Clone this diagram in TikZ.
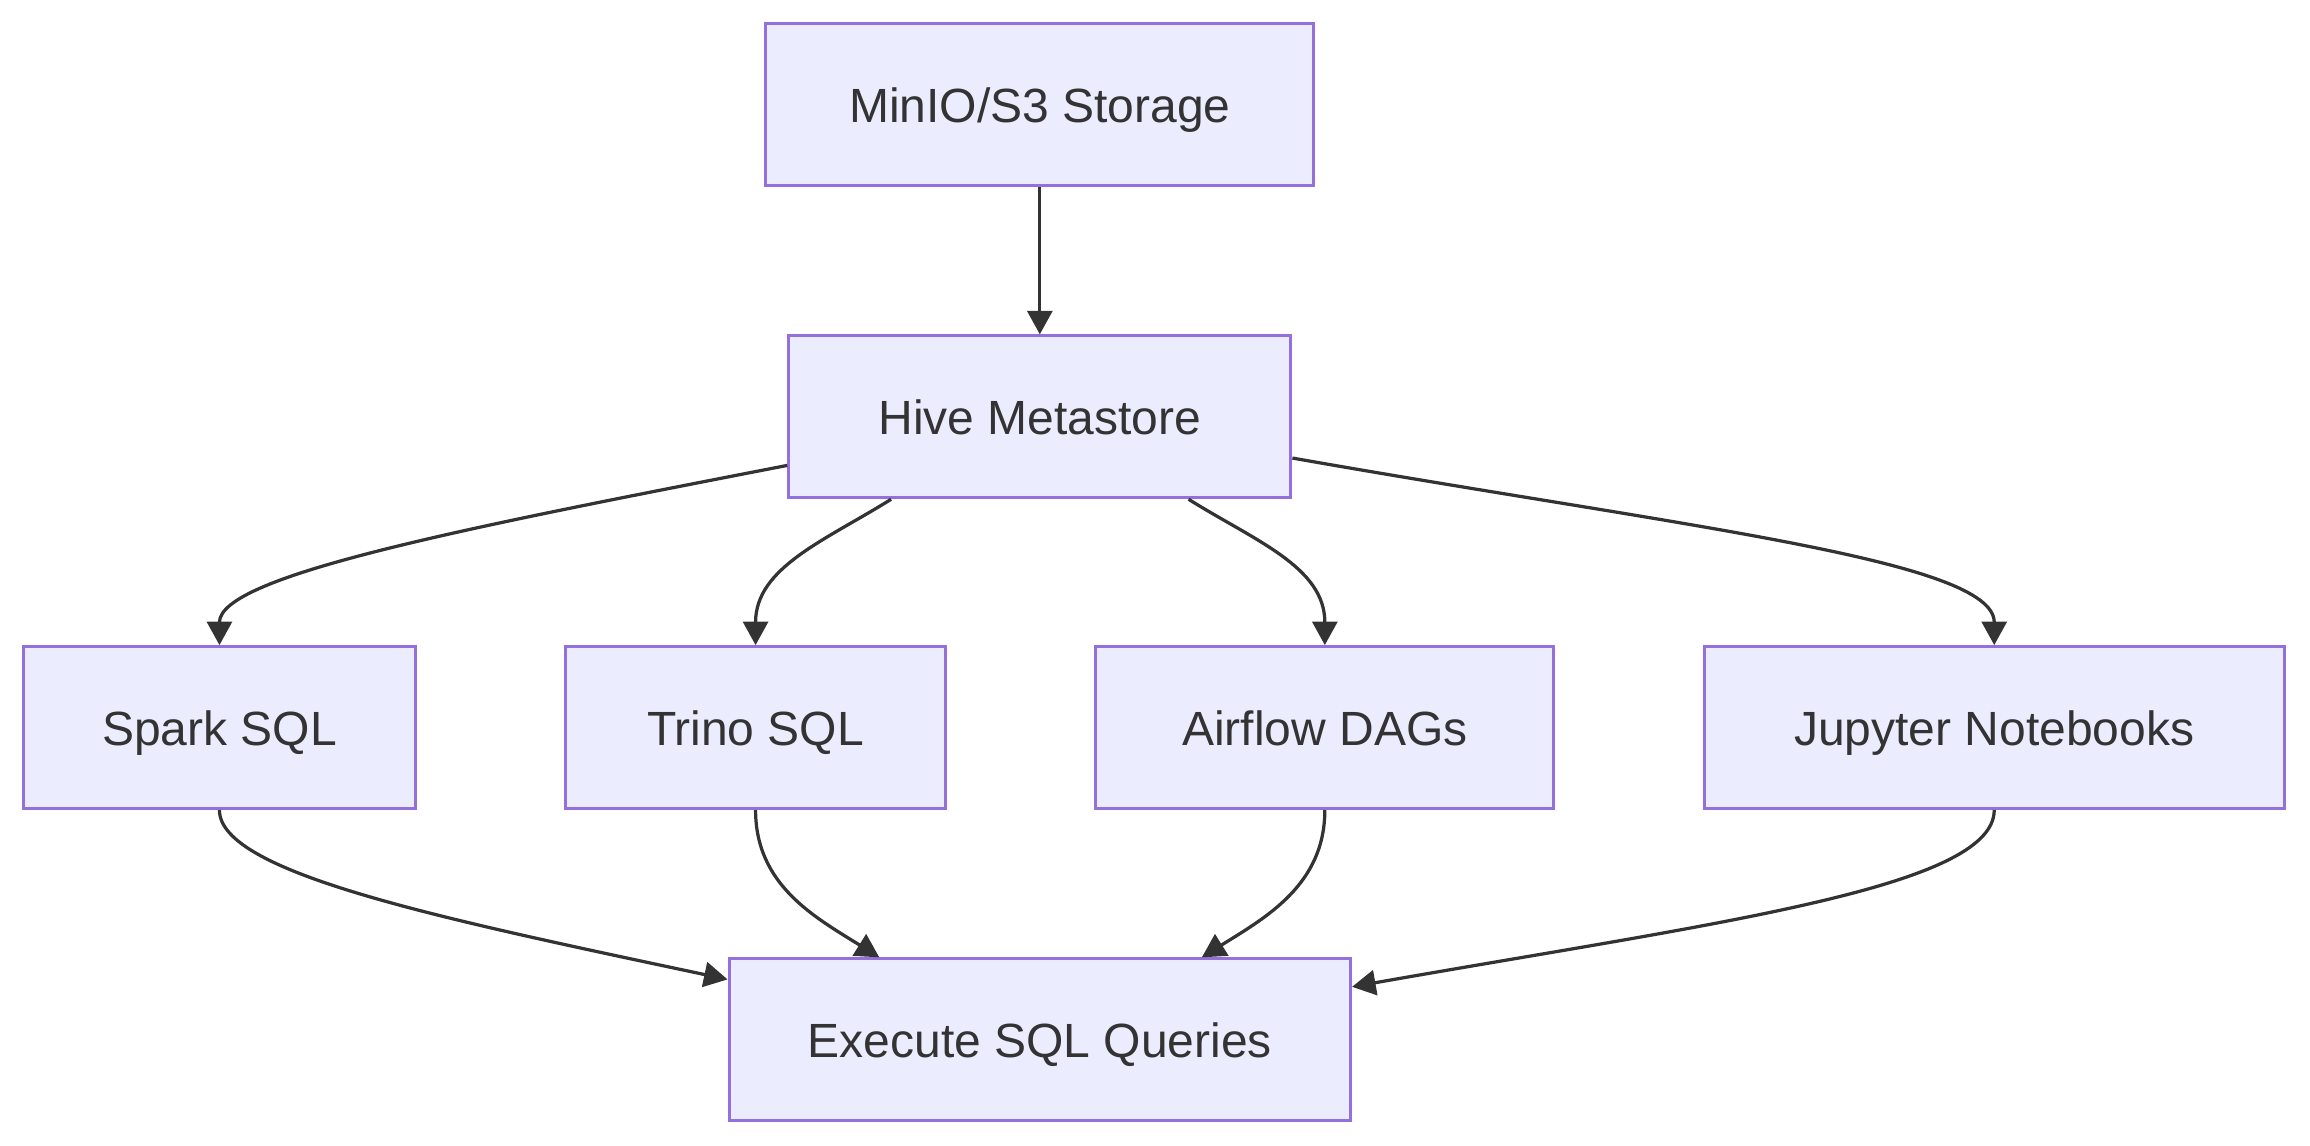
\documentclass[tikz,border=0pt]{standalone}
\usepackage{fontspec}
\setmainfont{Liberation Sans}
\usetikzlibrary{arrows.meta, positioning}
\definecolor{boxfill}{HTML}{ECECFF}
\definecolor{boxline}{HTML}{9370DB}
\definecolor{ink}{HTML}{333333}

\begin{document}
\begin{tikzpicture}[x=1pt, y=-1pt, node distance=212pt, on grid,
    box/.style={draw=boxline, fill=boxfill, line width=2pt, minimum height=110pt,
      inner sep=0pt, text=ink, font=\fontsize{32.6pt}{39pt}\selectfont,
      text height=24pt, text depth=0pt},
    flow/.style={color=ink, line width=2.2pt, -{Triangle[length=16pt, width=17pt]}}]
  \useasboundingbox (0,0) rectangle (1568.4,778);
  \node[box, minimum width=372pt] (minio) at (706,71) {MinIO/S3 Storage};
  \node[box, minimum width=341pt] (hive) [below=of minio] {Hive Metastore};
  \node[box, minimum width=258pt] (trino) [below left=211pt and 193pt of hive] {Trino SQL};
  \node[box, minimum width=266pt] (spark) [left=364pt of trino] {Spark SQL};
  \node[box, minimum width=311pt] (airflow) [below right=211pt and 193.5pt of hive] {Airflow DAGs};
  \node[box, minimum width=394pt] (jupyter) [right=454.5pt of airflow] {Jupyter Notebooks};
  \node[box, minimum width=422pt] (exec) [below=423pt of hive] {Execute SQL Queries};
  \path[flow]
    (minio) edge (hive)
    ([yshift=-33pt]hive.west) edge [out=191, in=90, out looseness=1.4, in looseness=0.3] (spark.north)
    ([xshift=-101pt]hive.south) edge [out=212, in=90] (trino.north)
    ([xshift=101pt]hive.south) edge [out=-32, in=90] (airflow.north)
    ([yshift=-28pt]hive.east) edge [out=-10, in=90, out looseness=1.4, in looseness=0.3] (jupyter.north)
    (spark.south) edge [out=-90, in=168, out looseness=0.3, in looseness=1.4] ([yshift=41pt]exec.west)
    (trino.south) edge [out=-90, in=148] ([xshift=-109pt]exec.north)
    (airflow.south) edge [out=-90, in=32] ([xshift=110pt]exec.north)
    (jupyter.south) edge [out=-90, in=10, out looseness=0.3, in looseness=1.4] ([yshift=36pt]exec.east);
\end{tikzpicture}
\end{document}
